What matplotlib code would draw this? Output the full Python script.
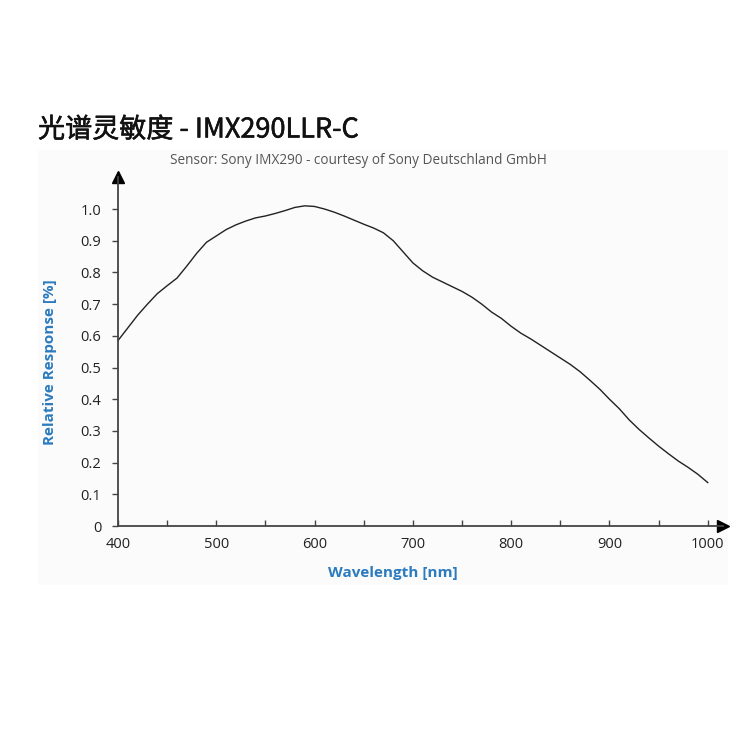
import matplotlib.pyplot as plt
import matplotlib.patches as mpatches
import matplotlib.patheffects as pe
import numpy as np

plt.rcParams['font.family'] = ['Open Sans', 'DejaVu Sans']

# spectral response
wavelength = [400, 410, 420, 430, 440, 450, 460, 470, 480, 490,
              500, 510, 520, 530, 540, 550, 560, 570, 580, 590,
              600, 610, 620, 630, 640, 650, 660, 670, 680, 690,
              700, 710, 720, 730, 740, 750, 760, 770, 780, 790,
              800, 810, 820, 830, 840, 850, 860, 870, 880, 890,
              900, 910, 920, 930, 940, 950, 960, 970, 980, 990, 1000]
response = [0.585, 0.625, 0.665, 0.700, 0.733, 0.758, 0.782, 0.820, 0.860, 0.895,
            0.915, 0.935, 0.950, 0.962, 0.972, 0.978, 0.986, 0.995, 1.005, 1.010,
            1.008, 1.000, 0.990, 0.978, 0.965, 0.952, 0.940, 0.925, 0.900, 0.865,
            0.830, 0.805, 0.785, 0.770, 0.755, 0.740, 0.722, 0.700, 0.675, 0.655,
            0.630, 0.608, 0.590, 0.570, 0.550, 0.530, 0.510, 0.487, 0.460, 0.432,
            0.400, 0.370, 0.335, 0.305, 0.278, 0.252, 0.228, 0.205, 0.185, 0.163, 0.137]

yticks = [0, 0.1, 0.2, 0.3, 0.4, 0.5, 0.6, 0.7, 0.8, 0.9, 1.0]
ylabels = ["0", "0.1", "0.2", "0.3", "0.4", "0.5", "0.6", "0.7", "0.8", "0.9", "1.0"]
xticks = [400, 500, 600, 700, 800, 900, 1000]

blue = "#2b7bbf"
axcol = "#444444"

fig = plt.figure(figsize=(7.5, 7.5), dpi=100)
fig.patch.set_facecolor("white")

# faint panel behind the chart
fig.patches.append(mpatches.Rectangle((38/750, 1-585/750), 690/750, 435/750,
                                      transform=fig.transFigure, facecolor="#fbfbfb",
                                      edgecolor="none", zorder=-5))

ax = fig.add_axes([118/750, 1-526/750, 604.5/750, 348.7/750])
ax.set_zorder(2)
ax.set_facecolor("none")
ax.plot(wavelength, response, color="#222222", lw=1.0, clip_on=False)

ax.set_xlim(400, 1015)
ax.set_ylim(0, 1.1)
for s in ["top", "right"]:
    ax.spines[s].set_visible(False)
for s in ["left", "bottom"]:
    ax.spines[s].set_color(axcol)
    ax.spines[s].set_linewidth(1.3)

# arrow heads
ax.plot(1, 0, marker=">", color="black", ms=9, transform=ax.transAxes, clip_on=False)
ax.plot(0, 1, marker="^", color="black", ms=9, transform=ax.transAxes, clip_on=False)

ax.set_yticks(yticks)
ax.set_yticklabels(ylabels)
ax.set_xticks(xticks)
ax.set_xticks([450, 550, 650, 750, 850, 950], minor=True)
ax.tick_params(axis="y", direction="out", length=4, width=1, color=axcol,
               labelsize=10.5, labelcolor="#222222", pad=8)
ax.tick_params(axis="x", which="both", direction="in", length=4, width=1, color=axcol,
               labelsize=10.5, labelcolor="#222222", pad=8)

ax.set_ylabel("Relative Response [%]", color=blue, fontsize=11, fontweight="bold")
ax.yaxis.set_label_coords((50-118)/604.5, (526-362)/348.7)
ax.set_xlabel("Wavelength [nm]", color=blue, fontsize=11, fontweight="bold")
ax.xaxis.set_label_coords((393-118)/604.5, -(573-526)/348.7)
ax.xaxis.label.set_va("center")
ax.yaxis.label.set_va("center")

# regular weight with a thin stroke, to get the semi-bold look of the original
fig.text(38/750, 1-130/750, "光谱灵敏度 - IMX290LLR-C", fontsize=19.5,
         family=["Noto Sans CJK SC", "DejaVu Sans"], va="center", ha="left", color="#111111",
         path_effects=[pe.withStroke(linewidth=0.4, foreground="#111111")])
fig.text(358/750, 1-160/750, "Sensor: Sony IMX290 - courtesy of Sony Deutschland GmbH",
         fontsize=9.8, color="#555555", va="center", ha="center")

fig.savefig("out.png", dpi=100)
